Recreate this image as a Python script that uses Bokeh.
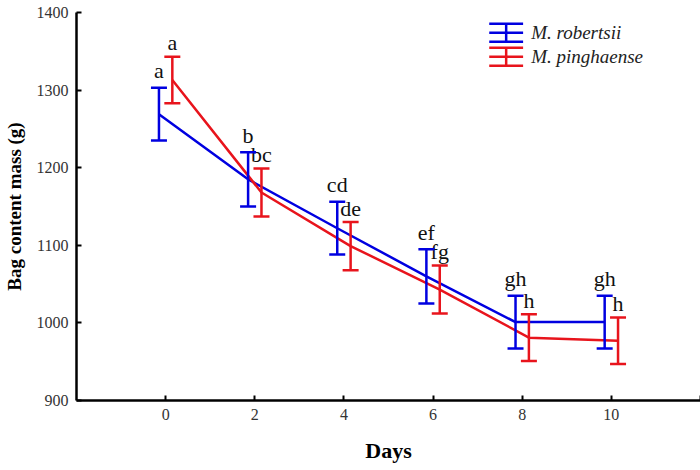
from bokeh.plotting import figure
from bokeh.models import ColumnDataSource, Whisker, TeeHead, Range1d, FixedTicker
from bokeh.core.properties import value
from bokeh.embed import file_html
from bokeh.resources import INLINE

# ---- data ----
days = [0, 2, 4, 6, 8, 10]
robertsii_mean = [1269, 1185, 1122, 1060, 1001, 1001]
robertsii_err = [34, 35, 34, 35, 34, 34]
robertsii_letters = ["a", "b", "cd", "ef", "gh", "gh"]
pinghaense_mean = [1313, 1168, 1099, 1043, 981, 977]
pinghaense_err = [30, 31, 31, 31, 30, 30]
pinghaense_letters = ["a", "bc", "de", "fg", "h", "h"]
series_names = ["M. robertsii", "M. pinghaense"]
x_ticks = [0, 2, 4, 6, 8, 10, 12]
x_tick_labels = {12: ""}
y_ticks = [900, 1000, 1100, 1200, 1300, 1400]

# ---- style ----
BLUE = "#0000e0"
RED = "#e8141c"
SERIF = "Liberation Serif"
DODGE = 0.15

p = figure(width=700, height=470, output_backend="svg", toolbar_location=None,
           x_range=Range1d(-2, 12), y_range=Range1d(900, 1400),
           min_border_left=74, min_border_right=0, min_border_top=12, min_border_bottom=70)
p.outline_line_color = None
p.xgrid.visible = False
p.ygrid.visible = False
p.background_fill_color = "white"
p.border_fill_color = "white"


def add_series(mean, err, letters, dodge, color, letter_offset):
    src = ColumnDataSource(dict(
        x=[d + dodge for d in days],
        y=mean,
        upper=[m + e for m, e in zip(mean, err)],
        lower=[m - e for m, e in zip(mean, err)],
        letters=letters,
    ))
    p.line("x", "y", source=src, line_color=color, line_width=2.5)
    w = Whisker(base="x", upper="upper", lower="lower", source=src, dimension="height",
                line_color=color, line_width=2.5,
                upper_head=TeeHead(size=16, line_color=color, line_width=2.5),
                lower_head=TeeHead(size=16, line_color=color, line_width=2.5))
    w.level = "glyph"
    p.add_layout(w)
    p.text("x", "upper", text="letters", source=src, text_align="center",
           text_baseline="alphabetic", y_offset=-letter_offset,
           text_font=value(SERIF), text_font_size="22px", text_color="#111111")


add_series(robertsii_mean, robertsii_err, robertsii_letters, -DODGE, BLUE, 17)
add_series(pinghaense_mean, pinghaense_err, pinghaense_letters, DODGE, RED, 14)

# ---- legend (error-bar icons + italic labels), placed in data space ----
LEG_X0, LEG_X1, LEG_TX = 7.26, 8.02, 8.2
LEG_Y = [1374, 1343]
LEG_H = 11.6
for cy, color, name in zip(LEG_Y, [BLUE, RED], series_names):
    xm = (LEG_X0 + LEG_X1) / 2
    p.segment(x0=[LEG_X0] * 3 + [xm], x1=[LEG_X1] * 3 + [xm],
              y0=[cy + LEG_H, cy, cy - LEG_H, cy - LEG_H],
              y1=[cy + LEG_H, cy, cy - LEG_H, cy + LEG_H],
              line_color=color, line_width=2.5)
    p.text(x=[LEG_TX], y=[cy], text=[name], text_align="left", text_baseline="middle",
           text_font=value(SERIF), text_font_style="italic", text_font_size="19px",
           text_color="#222222")

# ---- axes ----
for ax in (p.xaxis[0], p.yaxis[0]):
    ax.axis_line_width = 2.5
    ax.axis_line_color = "black"
    ax.major_tick_in = 5
    ax.major_tick_out = 0
    ax.major_tick_line_width = 2
    ax.minor_tick_line_color = None
    ax.major_label_text_font = SERIF
    ax.major_label_text_font_size = "16px"
    ax.major_label_text_color = "#333333"
    ax.axis_label_text_font = SERIF
    ax.axis_label_text_font_style = "bold"
    ax.axis_label_text_color = "black"

p.xaxis.ticker = FixedTicker(ticks=x_ticks)
p.xaxis.major_label_overrides = x_tick_labels
p.yaxis.ticker = FixedTicker(ticks=y_ticks)
p.xaxis.axis_label = "Days"
p.xaxis.axis_label_text_font_size = "22px"
p.xaxis.axis_label_text_line_height = 1.0
p.xaxis.major_label_standoff = 8
p.xaxis.axis_label_standoff = 15
p.yaxis.axis_label = "Bag content mass (g)"
p.yaxis.axis_label_text_font_size = "19px"
p.yaxis.axis_label_text_line_height = 1.0
p.yaxis.major_label_standoff = 8
p.yaxis.axis_label_standoff = 9

open("out.html", "w").write(file_html(p, INLINE))
